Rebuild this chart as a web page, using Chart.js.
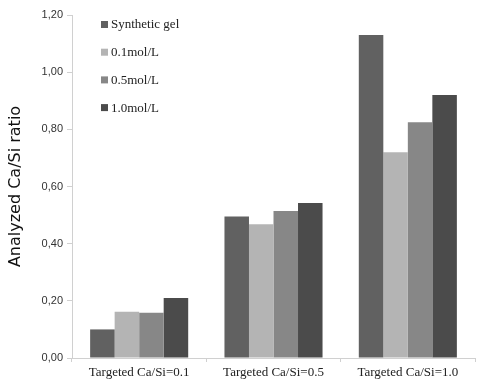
<!DOCTYPE html>
<html>
<head>
<meta charset="utf-8">
<script src="https://cdn.jsdelivr.net/npm/chart.js@4"></script>
<style>
  html, body { margin: 0; padding: 0; background: #fff; }
  #wrap { width: 478px; height: 385px; }
</style>
</head>
<body>
<div id="wrap"><canvas id="chart1"></canvas></div>
<script>
// data
const categories = ["Targeted Ca/Si=0.1", "Targeted Ca/Si=0.5", "Targeted Ca/Si=1.0"];
const seriesNames = ["Synthetic gel", "0.1mol/L", "0.5mol/L", "1.0mol/L"];
const syntheticGel = [0.10, 0.495, 1.13];
const mol01 = [0.162, 0.468, 0.72];
const mol05 = [0.158, 0.514, 0.825];
const mol10 = [0.21, 0.542, 0.92];
const yTicks = [0, 0.2, 0.4, 0.6, 0.8, 1.0, 1.2];
const colors = ["#616161", "#b4b4b4", "#878787", "#4b4b4b"];

const values = [syntheticGel, mol01, mol05, mol10];

// legend drawn inside the plot, top left
const innerLegend = {
  id: "innerLegend",
  afterDraw(chart) {
    const ctx = chart.ctx;
    chart.data.datasets.forEach(function (ds, i) {
      const y = 25 + i * 27.7;
      ctx.save();
      ctx.fillStyle = ds.backgroundColor;
      ctx.fillRect(101, y - 4, 7, 7);
      ctx.font = "13px 'Liberation Serif'";
      ctx.textBaseline = "middle";
      ctx.textAlign = "left";
      ctx.fillStyle = "#222";
      ctx.fillText(ds.label, 111, y);
      ctx.restore();
    });
  },
};

function draw() {
  new Chart(document.getElementById("chart1"), {
    type: "bar",
    data: {
      labels: categories,
      datasets: seriesNames.map(function (name, i) {
        return {
          label: name,
          data: values[i],
          backgroundColor: colors[i],
          categoryPercentage: 0.73,
          barPercentage: 1.0,
        };
      }),
    },
    options: {
      responsive: true,
      maintainAspectRatio: false,
      animation: false,
      layout: { padding: { top: 15, right: 3, left: 6, bottom: 0 } },
      plugins: {
        legend: { display: false },
        tooltip: { enabled: false },
      },
      scales: {
        x: {
          grid: {
            offset: true,
            drawOnChartArea: false,
            tickLength: 4,
            color: "#d0d0d0",
          },
          border: { color: "#d0d0d0" },
          ticks: {
            font: { family: "'Liberation Serif', serif", size: 13 },
            color: "#222",
            padding: 3,
          },
          afterFit: function (s) { s.height = 27; },
        },
        y: {
          min: 0,
          max: 1.2,
          afterBuildTicks: function (s) {
            s.ticks = yTicks.map(function (v) { return { value: v }; });
          },
          grid: {
            drawOnChartArea: false,
            tickLength: 5,
            color: "#d0d0d0",
          },
          border: { color: "#d0d0d0" },
          ticks: {
            font: { family: "'Liberation Sans'", size: 11 },
            color: "#333",
            padding: 4,
            callback: function (v) { return Number(v).toFixed(2).replace(".", ","); },
          },
          title: {
            display: true,
            text: "Analyzed Ca/Si ratio",
            font: { family: "'DejaVu Sans'", size: 16 },
            color: "#111",
            padding: { top: 0, bottom: 3 },
          },
          afterFit: function (s) { s.width = 66; },
        },
      },
    },
    plugins: [innerLegend],
  });
}

Promise.all([
  document.fonts.load("13px 'Liberation Serif'"),
  document.fonts.load("11px 'Liberation Sans'"),
  document.fonts.load("16px 'DejaVu Sans'"),
]).then(draw, draw);
</script>
</body>
</html>
